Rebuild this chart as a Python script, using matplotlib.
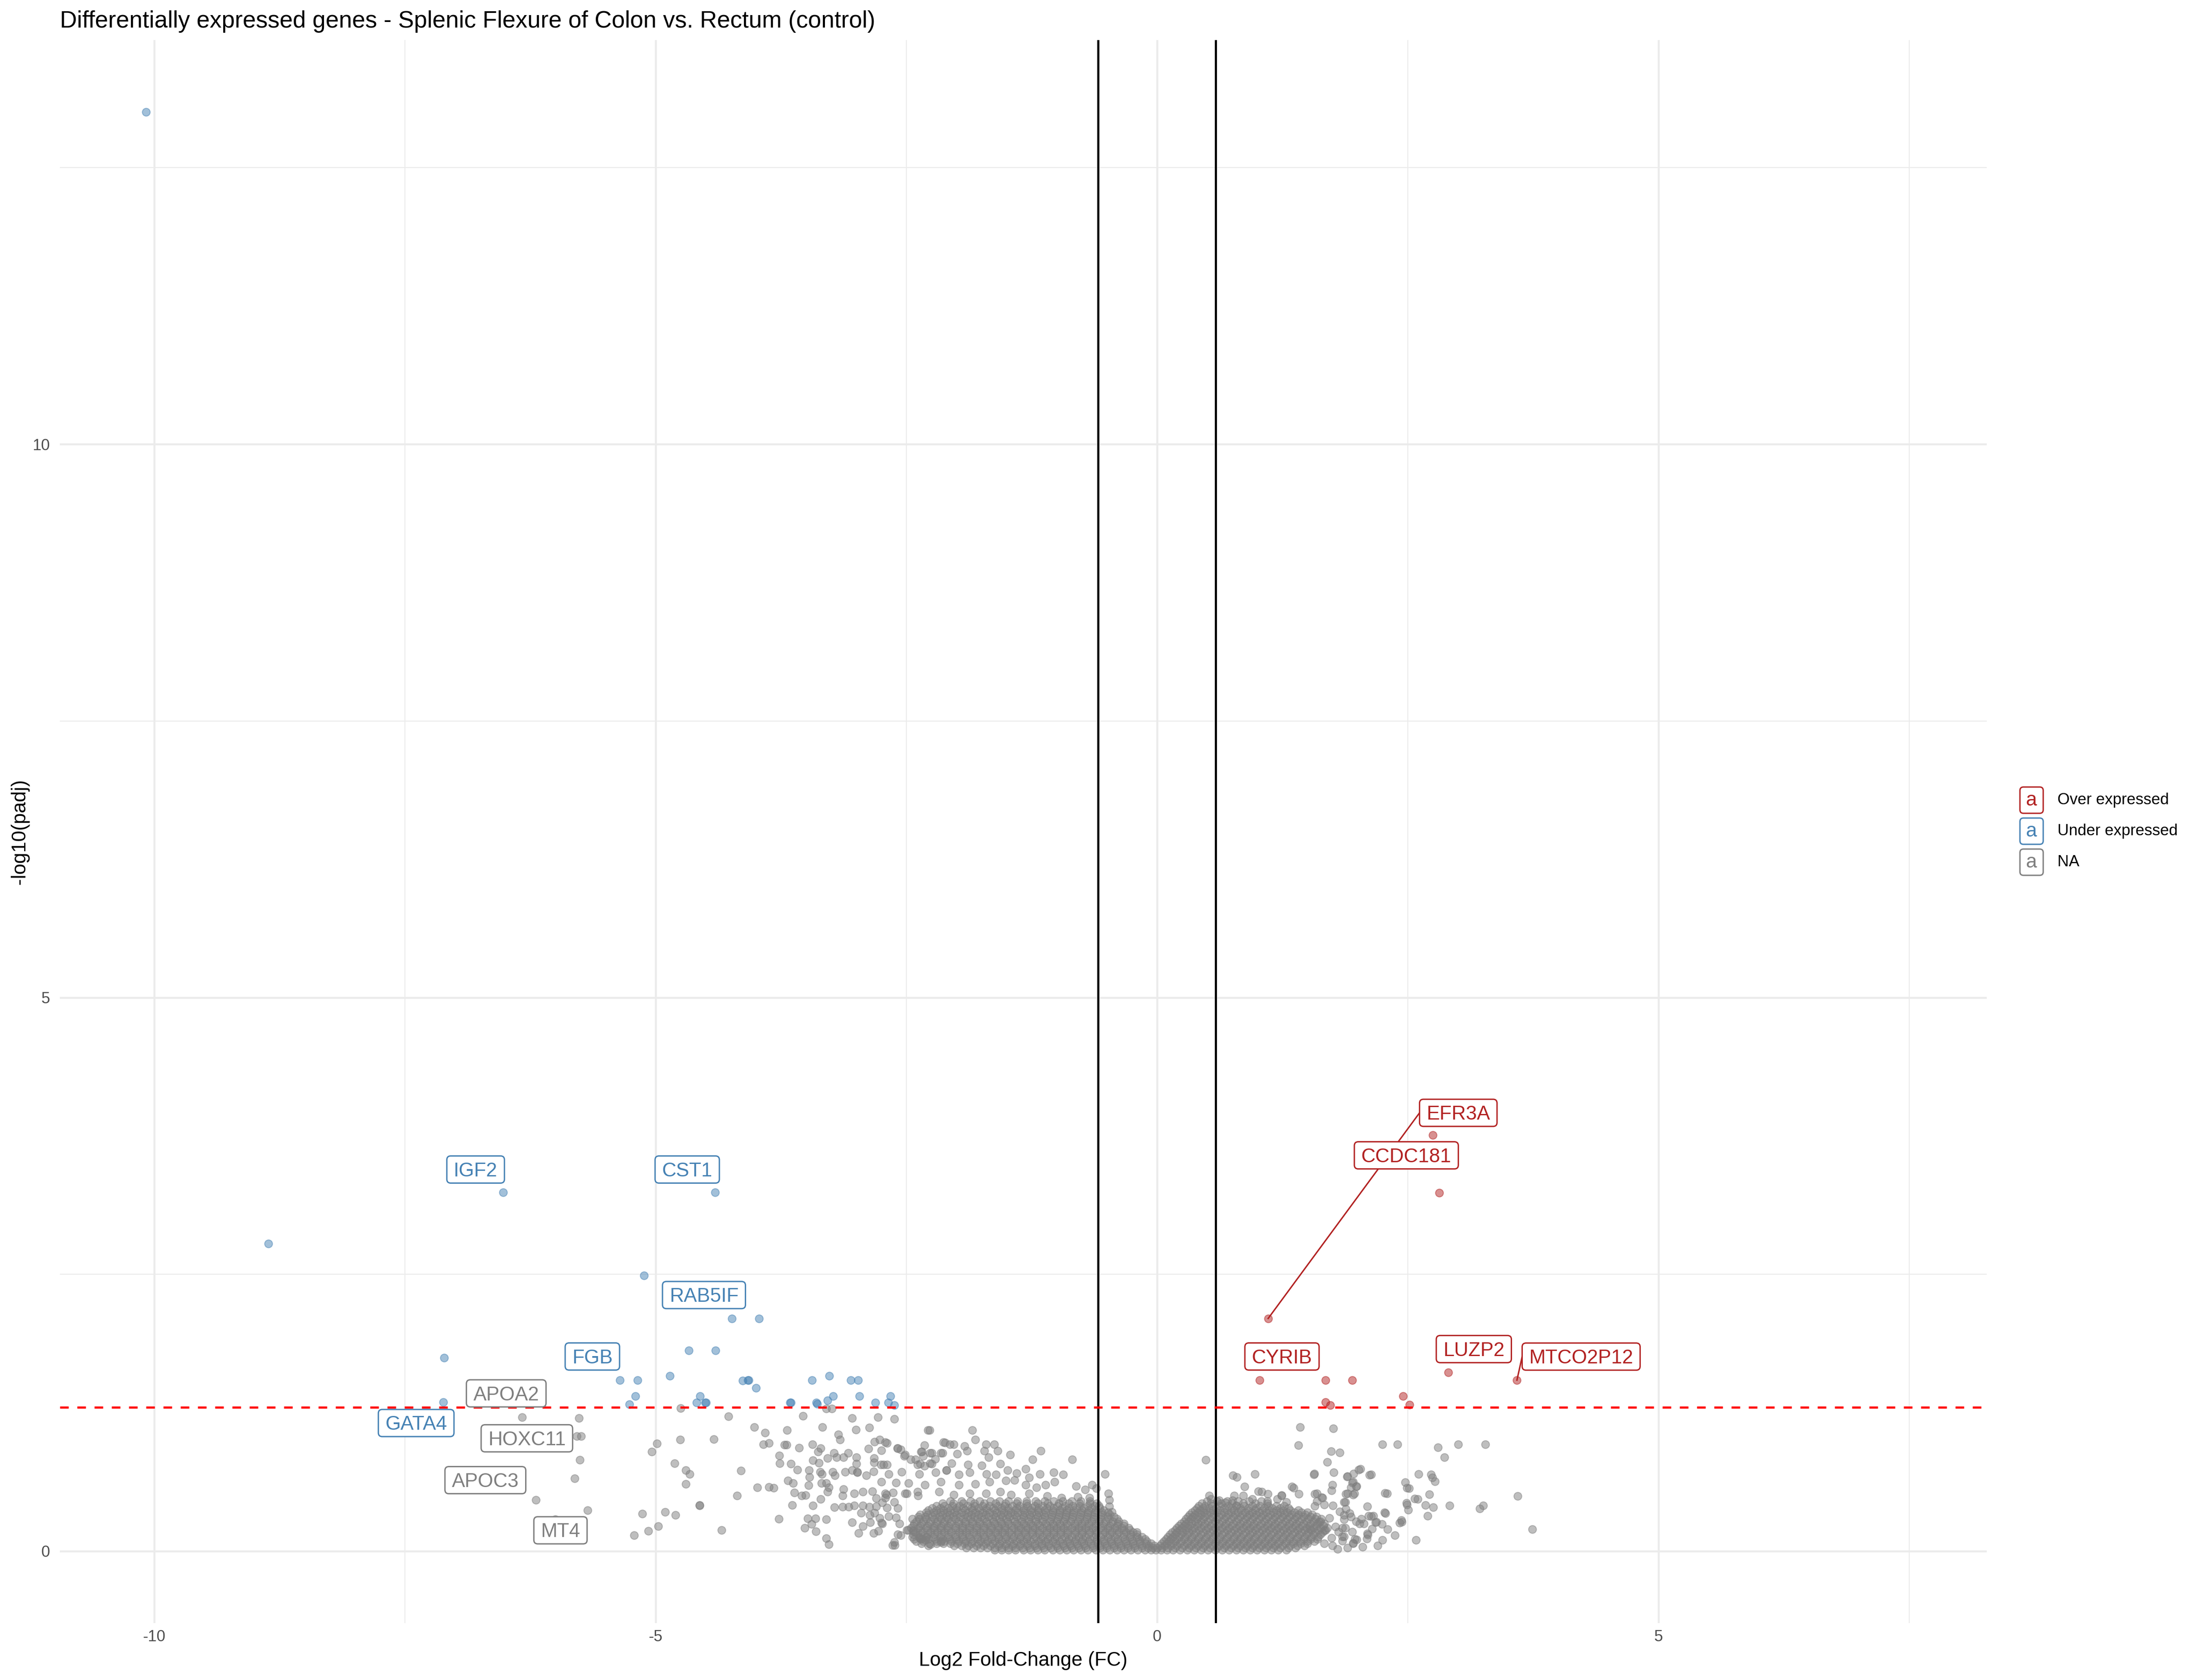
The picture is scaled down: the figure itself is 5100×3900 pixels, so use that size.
import matplotlib
matplotlib.use('Agg')
import matplotlib.pyplot as plt
from matplotlib.patches import FancyBboxPatch
from matplotlib.transforms import IdentityTransform

plt.rcParams['font.family'] = ['Liberation Sans', 'DejaVu Sans']
plt.rcParams['axes.unicode_minus'] = False

# Цвета групп
col_over = '#B22222'
col_under = '#4682B4'
col_na = '#7F7F7F'

legend_labels = ['Over expressed', 'Under expressed', 'NA']
legend_colors = [col_over, col_under, col_na]

# Значимые гены: понижены
under_pts = [(-10.08, 13.0), (-8.86, 2.78), (-6.52, 3.24), (-4.405, 3.24), (-5.115, 2.49),
             (-4.24, 2.10), (-3.97, 2.10), (-4.67, 1.815), (-4.40, 1.815), (-7.11, 1.745),
             (-5.357, 1.546), (-5.18, 1.546), (-4.855, 1.585), (-4.133, 1.54), (-4.08, 1.545),
             (-4.07, 1.545), (-4.0, 1.475), (-3.44, 1.546), (-3.266, 1.585), (-3.055, 1.546),
             (-2.98, 1.546), (-5.20, 1.40), (-4.555, 1.40), (-4.59, 1.344), (-4.505, 1.344),
             (-4.497, 1.344), (-5.26, 1.328), (-7.115, 1.345), (-3.657, 1.344), (-3.65, 1.344),
             (-3.396, 1.344), (-3.39, 1.33), (-3.285, 1.36), (-3.23, 1.40), (-2.966, 1.40),
             (-2.656, 1.40), (-2.81, 1.344), (-2.68, 1.344), (-2.617, 1.32)]

# Значимые гены: повышены
over_pts = [(1.109, 2.102), (2.751, 3.759), (2.814, 3.236), (1.025, 1.545), (1.683, 1.545),
            (1.948, 1.545), (2.904, 1.614), (3.59, 1.545), (1.683, 1.346), (1.73, 1.317),
            (2.456, 1.399), (2.519, 1.323)]

# Незначимые гены, разреженная часть слева
na_far_left = [(-6.33, 1.209), (-5.764, 1.201), (-4.75, 1.291), (-5.787, 1.037), (-5.741, 1.037),
               (-5.757, 0.823), (-5.806, 0.659), (-6.194, 0.462), (-5.676, 0.369), (-6.0, 0.287),
               (-4.988, 0.974), (-5.038, 0.90), (-4.754, 1.007), (-4.42, 1.012), (-4.808, 0.793),
               (-4.70, 0.733), (-4.658, 0.697), (-4.70, 0.607), (-5.134, 0.339), (-5.215, 0.142),
               (-5.07, 0.183), (-4.973, 0.224), (-4.904, 0.353), (-4.80, 0.328), (-4.562, 0.413),
               (-4.343, 0.189), (-4.274, 1.217), (-4.15, 0.729), (-4.185, 0.50)]

na_left = [(-3.531, 1.221), (-3.04, 1.204), (-2.783, 1.21), (-2.617, 1.195), (-3.296, 1.288),
           (-3.241, 1.288), (-4.015, 1.119), (-3.906, 1.07), (-3.689, 1.094), (-3.336, 1.119),
           (-3.0, 1.096), (-2.869, 1.118), (-2.267, 1.094), (-3.923, 0.964), (-3.869, 0.977),
           (-3.716, 0.961), (-3.691, 0.961), (-3.57, 0.935), (-3.437, 0.964), (-3.353, 0.929),
           (-3.38, 0.899), (-3.178, 1.055), (-3.16, 1.006), (-2.877, 0.925), (-2.815, 0.99),
           (-2.765, 1.009), (-2.69, 0.977), (-2.588, 0.931), (-2.556, 0.918), (-2.32, 0.957),
           (-2.11, 0.982), (-3.765, 0.862), (-3.76, 0.792), (-3.65, 0.788), (-3.585, 0.736),
           (-3.47, 0.73), (-3.465, 0.671), (-3.43, 0.821), (-3.37, 0.797), (-3.284, 0.84),
           (-3.222, 0.886), (-3.195, 0.847), (-3.128, 0.847), (-3.08, 0.886), (-2.995, 0.847),
           (-2.995, 0.788), (-2.99, 0.717), (-2.82, 0.84), (-2.82, 0.801), (-2.753, 0.782),
           (-2.69, 0.782), (-2.827, 0.721), (-2.52, 0.86), (-2.457, 0.827), (-2.41, 0.827),
           (-2.346, 0.899), (-2.33, 0.86), (-2.247, 0.886), (-2.21, 0.834), (-2.136, 0.886),
           (-2.36, 0.788), (-2.32, 0.769), (-2.247, 0.788), (-2.1, 0.73), (-3.358, 0.717),
           (-3.34, 0.697), (-3.235, 0.717), (-3.21, 0.684), (-3.11, 0.717), (-3.04, 0.73),
           (-2.99, 0.71), (-2.90, 0.684), (-3.679, 0.639), (-3.63, 0.613), (-3.474, 0.594),
           (-3.346, 0.613), (-3.296, 0.613), (-3.27, 0.574), (-3.983, 0.574), (-3.869, 0.581),
           (-3.822, 0.571), (-3.617, 0.529), (-3.543, 0.503), (-3.506, 0.506), (-3.353, 0.47),
           (-3.284, 0.538), (-3.128, 0.561), (-3.135, 0.503), (-3.017, 0.522), (-2.933, 0.535),
           (-2.84, 0.542), (-2.8, 0.477), (-2.696, 0.509), (-2.63, 0.529), (-2.494, 0.522),
           (-2.383, 0.503), (-3.637, 0.418), (-3.432, 0.412), (-3.215, 0.395), (-3.136, 0.401),
           (-3.074, 0.401), (-3.017, 0.412), (-2.933, 0.412), (-2.869, 0.399), (-2.8, 0.405),
           (-2.74, 0.438), (-4.56, 0.418), (-3.77, 0.291), (-3.481, 0.295), (-3.407, 0.295),
           (-3.296, 0.286), (-3.444, 0.243), (-3.514, 0.21), (-3.40, 0.178), (-3.296, 0.117),
           (-3.27, 0.061), (-3.04, 0.262), (-2.933, 0.226), (-2.975, 0.165), (-2.86, 0.262),
           (-2.827, 0.165), (-2.78, 0.184), (-2.74, 0.249), (-2.95, 0.347), (-2.864, 0.327),
           (-2.815, 0.347), (-2.765, 0.301), (-2.62, 0.081), (-2.615, 0.055), (-2.556, 0.145),
           (-2.48, 0.191), (-2.43, 0.178), (-2.358, 0.113), (-2.31, 0.10), (-2.26, 0.061),
           (-2.15, 0.094), (-2.638, 0.056), (-2.154, 0.082), (-2.584, 0.153), (-2.369, 0.121),
           (-2.297, 0.127), (-2.495, 0.192), (-2.566, 0.25), (-2.746, 0.257), (-2.674, 0.315),
           (-2.602, 0.302), (-2.692, 0.393), (-2.584, 0.387), (-2.62, 0.445), (-2.71, 0.484)]

na_mid_left = [(-2.286, 1.093), (-1.841, 1.093), (-2.71, 0.983), (-2.746, 0.912), (-2.728, 0.782),
               (-2.128, 0.983), (-2.064, 0.964), (-2.028, 0.964), (-1.92, 0.951), (-1.81, 1.009),
               (-1.705, 0.964), (-1.622, 0.964), (-1.586, 0.905), (-1.159, 0.905), (-1.464, 0.873),
               (-1.238, 0.827), (-0.843, 0.827), (-2.584, 0.931), (-2.513, 0.873), (-2.351, 0.899),
               (-2.261, 0.886), (-2.154, 0.886), (-1.992, 0.879), (-1.895, 0.905), (-1.723, 0.905),
               (-1.68, 0.847), (-2.387, 0.782), (-2.261, 0.795), (-2.046, 0.795), (-1.884, 0.782),
               (-1.748, 0.776), (-1.561, 0.789), (-2.674, 0.698), (-2.548, 0.717), (-2.369, 0.698),
               (-2.207, 0.711), (-2.1, 0.73), (-1.974, 0.691), (-1.866, 0.711), (-1.698, 0.698),
               (-1.604, 0.691), (-1.49, 0.73), (-1.4, 0.704), (-1.31, 0.743), (-1.167, 0.698),
               (-1.03, 0.711), (-0.933, 0.691), (-0.52, 0.698), (-0.646, 0.60), (-0.808, 0.588),
               (-0.718, 0.555), (-1.113, 0.60), (-1.023, 0.626), (-1.274, 0.665), (-0.603, 0.568),
               (-2.746, 0.626), (-2.602, 0.62), (-2.477, 0.613), (-2.315, 0.60), (-2.154, 0.626),
               (-1.974, 0.60), (-1.813, 0.607), (-1.669, 0.626), (-1.508, 0.639), (-1.42, 0.64),
               (-1.31, 0.60), (-1.202, 0.575), (-2.71, 0.523), (-2.513, 0.523), (-2.387, 0.536),
               (-2.172, 0.536), (-2.028, 0.51), (-1.866, 0.523), (-1.705, 0.523), (-1.561, 0.536),
               (-1.454, 0.51), (-1.274, 0.523), (-1.095, 0.497), (-0.951, 0.484), (-0.79, 0.49),
               (-0.675, 0.484), (-0.485, 0.523), (-0.477, 0.464), (-0.474, 0.406), (-0.449, 0.354)]

na_right = [(1.428, 1.119), (1.759, 1.107), (1.411, 0.957), (2.248, 0.964), (2.40, 0.964),
            (2.804, 0.937), (3.006, 0.964), (3.274, 0.964), (2.867, 0.849), (1.739, 0.902),
            (1.824, 0.89), (1.698, 0.805), (0.487, 0.826), (0.757, 0.683), (0.795, 0.669),
            (0.978, 0.698), (0.875, 0.583), (1.564, 0.694), (1.57, 0.70), (1.761, 0.711),
            (1.895, 0.673), (1.96, 0.70), (2.01, 0.737), (2.12, 0.689), (1.748, 0.598),
            (1.742, 0.547), (1.947, 0.618), (1.988, 0.584), (1.934, 0.577), (1.348, 0.584),
            (1.364, 0.571), (1.009, 0.541), (1.045, 0.537), (1.105, 0.516), (1.241, 0.506),
            (1.414, 0.516), (1.573, 0.516), (1.641, 0.486), (1.882, 0.519), (1.956, 0.509),
            (1.865, 0.445), (2.475, 0.621), (2.495, 0.571), (2.516, 0.567), (2.276, 0.524),
            (2.607, 0.698), (2.733, 0.691), (2.774, 0.629), (2.571, 0.475), (2.716, 0.512),
            (2.489, 0.434), (2.508, 0.373), (2.678, 0.416), (2.754, 0.396), (2.919, 0.411),
            (2.70, 0.318), (3.22, 0.386), (3.252, 0.414), (3.597, 0.496), (3.745, 0.199),
            (2.371, 0.145), (2.585, 0.10), (2.418, 0.257), (2.437, 0.281), (2.27, 0.349),
            (2.243, 0.243), (2.18, 0.259), (2.098, 0.404), (2.112, 0.318), (2.158, 0.318),
            (2.038, 0.291), (2.021, 0.25), (2.144, 0.202), (2.098, 0.161), (2.092, 0.113),
            (1.956, 0.072), (1.99, 0.106), (1.824, 0.359), (1.865, 0.325), (1.934, 0.311),
            (1.988, 0.27), (1.81, 0.175), (1.85, 0.134), (1.879, 0.209), (1.947, 0.175),
            (1.85, 0.093), (1.756, 0.414), (1.668, 0.42), (1.573, 0.407), (0.52, 0.503),
            (0.538, 0.471), (0.772, 0.503), (0.754, 0.458), (0.79, 0.412), (1.245, 0.503),
            (1.292, 0.445), (1.597, 0.523), (1.651, 0.484), (1.597, 0.451), (1.884, 0.38),
            (1.92, 0.341), (1.902, 0.678), (1.956, 0.626), (2.028, 0.743), (2.136, 0.691),
            (1.992, 0.588), (1.967, 0.523), (1.902, 0.523), (1.877, 0.445), (2.297, 0.523),
            (2.602, 0.471), (2.495, 0.419), (2.441, 0.263), (2.746, 0.665), (2.279, 0.341),
            (2.136, 0.315), (2.19, 0.263), (2.064, 0.25), (2.1, 0.147), (1.974, 0.107),
            (1.956, 0.069), (1.849, 0.211), (1.866, 0.134), (1.669, 0.185), (1.741, 0.121),
            (1.669, 0.069), (1.615, 0.263), (1.526, 0.198), (1.866, 0.289), (0.62, 0.46),
            (0.68, 0.44), (0.95, 0.47), (1.1, 0.45), (1.2, 0.47), (0.86, 0.5), (1.75, 0.05),
            (1.78, 0.22), (1.72, 0.3), (2.05, 0.04), (1.8, 0.02), (1.9, 0.03), (2.2, 0.05),
            (2.3, 0.2), (2.25, 0.1)]

# Плотное ядро около нуля: уровень y и точки x на этом уровне
core_rows = [
    (0.012, [-1.62, -1.55, -1.48, -1.41, -1.33, -1.26, -1.19, -1.12, -1.04, -0.97, -0.9, -0.83,
             -0.76, -0.69, -0.61, -0.54, -0.47, -0.4, -0.33, -0.26, -0.19, -0.12, -0.06, -0.01,
             0.04, 0.1, 0.16, 0.23, 0.3, 0.37, 0.44, 0.51, 0.58, 0.65, 0.72, 0.79, 0.86, 0.93,
             1.0, 1.07, 1.14, 1.21, 1.29]),
    (0.03, [-1.9, -1.83, -1.76, -1.69, -1.62, -1.55, -1.48, -1.41, -1.34, -1.27, -1.2, -1.13,
            -1.06, -0.99, -0.92, -0.85, -0.78, -0.71, -0.64, -0.57, -0.5, -0.43, -0.36, -0.29,
            -0.22, -0.15, -0.09, -0.04, 0.0, 0.05, 0.11, 0.18, 0.25, 0.32, 0.39, 0.46, 0.53, 0.6,
            0.67, 0.74, 0.81, 0.88, 0.95, 1.02, 1.09, 1.16, 1.23, 1.31, 1.38]),
    (0.05, [-2.28, -2.02, -1.95, -1.88, -1.8, -1.73, -1.66, -1.58, -1.51, -1.44, -1.37, -1.29,
            -1.22, -1.15, -1.08, -1.0, -0.93, -0.86, -0.79, -0.72, -0.64, -0.57, -0.5, -0.43,
            -0.36, -0.29, -0.22, -0.15, -0.08, -0.03, 0.03, 0.08, 0.14, 0.2, 0.27, 0.34, 0.41,
            0.48, 0.55, 0.62, 0.69, 0.76, 0.83, 0.9, 0.97, 1.04, 1.11, 1.18, 1.25, 1.33, 1.4, 1.47]),
    (0.07, [-2.35, -2.27, -2.2, -2.13, -2.06, -1.99, -1.92, -1.85, -1.78, -1.71, -1.64, -1.57,
            -1.5, -1.43, -1.36, -1.29, -1.22, -1.15, -1.08, -1.01, -0.94, -0.87, -0.8, -0.73,
            -0.66, -0.59, -0.52, -0.45, -0.38, -0.31, -0.24, -0.17, -0.11, -0.06, 0.05, 0.1,
            0.16, 0.23, 0.3, 0.37, 0.44, 0.51, 0.58, 0.65, 0.72, 0.79, 0.86, 0.93, 1.0, 1.07,
            1.14, 1.21, 1.28, 1.36, 1.43, 1.5]),
    (0.09, [-2.4, -2.33, -2.2, -2.12, -2.05, -1.98, -1.91, -1.84, -1.76, -1.69, -1.62, -1.55,
            -1.47, -1.4, -1.33, -1.26, -1.18, -1.11, -1.04, -0.97, -0.89, -0.82, -0.75, -0.68,
            -0.6, -0.53, -0.46, -0.39, -0.31, -0.24, -0.17, -0.1, 0.07, 0.12, 0.18, 0.24, 0.31,
            0.38, 0.45, 0.52, 0.59, 0.66, 0.73, 0.8, 0.87, 0.94, 1.01, 1.08, 1.15, 1.22, 1.29,
            1.36, 1.43, 1.5, 1.57]),
    (0.11, [-2.42, -2.35, -2.28, -2.21, -2.14, -2.07, -2.0, -1.93, -1.86, -1.79, -1.72, -1.65,
            -1.58, -1.51, -1.44, -1.37, -1.3, -1.23, -1.16, -1.09, -1.02, -0.95, -0.88, -0.81,
            -0.74, -0.67, -0.6, -0.53, -0.46, -0.39, -0.32, -0.25, -0.18, -0.12, 0.09, 0.14,
            0.2, 0.27, 0.34, 0.41, 0.48, 0.55, 0.62, 0.69, 0.76, 0.83, 0.9, 0.97, 1.04, 1.11,
            1.18, 1.25, 1.32, 1.39, 1.46, 1.53, 1.6]),
    (0.13, [-2.44, -2.37, -2.3, -2.23, -2.16, -2.08, -2.01, -1.94, -1.87, -1.79, -1.72, -1.65,
            -1.58, -1.5, -1.43, -1.36, -1.29, -1.21, -1.14, -1.07, -1.0, -0.92, -0.85, -0.78,
            -0.71, -0.63, -0.56, -0.49, -0.42, -0.34, -0.27, -0.2, -0.15, 0.11, 0.16, 0.22, 0.28,
            0.35, 0.42, 0.49, 0.56, 0.63, 0.7, 0.77, 0.84, 0.91, 0.98, 1.05, 1.12, 1.19, 1.26,
            1.33, 1.4, 1.47, 1.54, 1.61]),
    (0.15, [-2.43, -2.36, -2.29, -2.22, -2.15, -2.08, -2.01, -1.94, -1.87, -1.8, -1.73, -1.66,
            -1.59, -1.52, -1.45, -1.38, -1.31, -1.24, -1.17, -1.1, -1.03, -0.96, -0.89, -0.82,
            -0.75, -0.68, -0.61, -0.54, -0.47, -0.4, -0.33, -0.26, -0.2, 0.13, 0.18, 0.24, 0.3,
            0.37, 0.44, 0.51, 0.58, 0.65, 0.72, 0.79, 0.86, 0.93, 1.0, 1.07, 1.14, 1.21, 1.28,
            1.35, 1.42, 1.49, 1.56, 1.63]),
    (0.17, [-2.41, -2.34, -2.26, -2.19, -2.12, -2.05, -1.97, -1.9, -1.83, -1.76, -1.68, -1.61,
            -1.54, -1.47, -1.39, -1.32, -1.25, -1.18, -1.1, -1.03, -0.96, -0.89, -0.81, -0.74,
            -0.67, -0.6, -0.52, -0.45, -0.38, -0.31, -0.24, -0.2, 0.15, 0.2, 0.26, 0.32, 0.39,
            0.46, 0.53, 0.6, 0.67, 0.74, 0.81, 0.88, 0.95, 1.02, 1.09, 1.16, 1.23, 1.3, 1.37,
            1.44, 1.51, 1.58, 1.65]),
    (0.19, [-2.43, -2.36, -2.29, -2.22, -2.15, -2.08, -2.01, -1.94, -1.87, -1.8, -1.73, -1.66,
            -1.59, -1.52, -1.45, -1.38, -1.31, -1.24, -1.17, -1.1, -1.03, -0.96, -0.89, -0.82,
            -0.75, -0.68, -0.61, -0.54, -0.47, -0.4, -0.33, -0.27, 0.18, 0.23, 0.29, 0.35, 0.42,
            0.49, 0.56, 0.63, 0.7, 0.77, 0.84, 0.91, 0.98, 1.05, 1.12, 1.19, 1.26, 1.33, 1.4,
            1.47, 1.54, 1.61, 1.68]),
    (0.21, [-2.45, -2.38, -2.3, -2.23, -2.16, -2.09, -2.01, -1.94, -1.87, -1.8, -1.72, -1.65,
            -1.58, -1.51, -1.43, -1.36, -1.29, -1.22, -1.14, -1.07, -1.0, -0.93, -0.85, -0.78,
            -0.71, -0.64, -0.56, -0.49, -0.42, -0.35, -0.28, 0.2, 0.25, 0.31, 0.37, 0.44, 0.51,
            0.58, 0.65, 0.72, 0.79, 0.86, 0.93, 1.0, 1.07, 1.14, 1.21, 1.28, 1.35, 1.42, 1.49,
            1.56, 1.63, 1.7]),
    (0.23, [-2.43, -2.36, -2.29, -2.22, -2.15, -2.08, -2.01, -1.94, -1.87, -1.8, -1.73, -1.66,
            -1.59, -1.52, -1.45, -1.38, -1.31, -1.24, -1.17, -1.1, -1.03, -0.96, -0.89, -0.82,
            -0.75, -0.68, -0.61, -0.54, -0.47, -0.4, -0.33, 0.22, 0.27, 0.33, 0.4, 0.47, 0.54,
            0.61, 0.68, 0.75, 0.82, 0.89, 0.96, 1.03, 1.1, 1.17, 1.24, 1.31, 1.38, 1.45, 1.52,
            1.59, 1.66]),
    (0.25, [-2.42, -2.35, -2.27, -2.2, -2.13, -2.06, -1.98, -1.91, -1.84, -1.77, -1.69, -1.62,
            -1.55, -1.48, -1.4, -1.33, -1.26, -1.19, -1.11, -1.04, -0.97, -0.9, -0.82, -0.75,
            -0.68, -0.61, -0.53, -0.46, -0.39, -0.33, 0.24, 0.29, 0.35, 0.41, 0.48, 0.55, 0.62,
            0.69, 0.76, 0.83, 0.9, 0.97, 1.04, 1.11, 1.18, 1.25, 1.32, 1.39, 1.46, 1.53, 1.6, 1.67]),
    (0.27, [-2.4, -2.33, -2.26, -2.19, -2.12, -2.05, -1.98, -1.91, -1.84, -1.77, -1.7, -1.63,
            -1.56, -1.49, -1.42, -1.35, -1.28, -1.21, -1.14, -1.07, -1.0, -0.93, -0.86, -0.79,
            -0.72, -0.65, -0.58, -0.51, -0.44, -0.38, 0.27, 0.32, 0.38, 0.44, 0.51, 0.58, 0.65,
            0.72, 0.79, 0.86, 0.93, 1.0, 1.07, 1.14, 1.21, 1.28, 1.35, 1.42, 1.49, 1.56, 1.63]),
    (0.29, [-2.44, -2.37, -2.3, -2.22, -2.15, -2.08, -2.01, -1.93, -1.86, -1.79, -1.72, -1.64,
            -1.57, -1.5, -1.43, -1.35, -1.28, -1.21, -1.14, -1.06, -0.99, -0.92, -0.85, -0.77,
            -0.7, -0.63, -0.56, -0.48, -0.4, 0.29, 0.34, 0.4, 0.46, 0.53, 0.6, 0.67, 0.74, 0.81,
            0.88, 0.95, 1.02, 1.09, 1.16, 1.23, 1.3, 1.37, 1.44, 1.51, 1.58, 1.64]),
    (0.31, [-2.38, -2.31, -2.24, -2.17, -2.1, -2.03, -1.96, -1.89, -1.82, -1.75, -1.68, -1.61,
            -1.54, -1.47, -1.4, -1.33, -1.26, -1.19, -1.12, -1.05, -0.98, -0.91, -0.84, -0.77,
            -0.7, -0.63, -0.56, -0.49, -0.43, 0.31, 0.36, 0.42, 0.48, 0.55, 0.62, 0.69, 0.76,
            0.83, 0.9, 0.97, 1.04, 1.11, 1.18, 1.25, 1.32, 1.39, 1.46, 1.53, 1.59]),
    (0.33, [-2.36, -2.29, -2.21, -2.14, -2.07, -2.0, -1.92, -1.85, -1.78, -1.71, -1.63, -1.56,
            -1.49, -1.42, -1.34, -1.27, -1.2, -1.13, -1.05, -0.98, -0.91, -0.84, -0.76, -0.69,
            -0.62, -0.55, -0.47, 0.33, 0.38, 0.44, 0.5, 0.57, 0.64, 0.71, 0.78, 0.85, 0.92, 0.99,
            1.06, 1.13, 1.2, 1.27, 1.34, 1.41, 1.48, 1.55]),
    (0.35, [-2.3, -2.23, -2.16, -2.09, -2.02, -1.95, -1.88, -1.81, -1.74, -1.67, -1.6, -1.53,
            -1.46, -1.39, -1.32, -1.25, -1.18, -1.11, -1.04, -0.97, -0.9, -0.83, -0.76, -0.69,
            -0.62, -0.55, -0.49, 0.35, 0.41, 0.47, 0.53, 0.6, 0.67, 0.74, 0.81, 0.88, 0.95, 1.02,
            1.09, 1.16, 1.23, 1.3, 1.37, 1.44, 1.5]),
    (0.37, [-2.28, -2.2, -2.13, -2.06, -1.99, -1.91, -1.84, -1.77, -1.7, -1.62, -1.55, -1.48,
            -1.41, -1.33, -1.26, -1.19, -1.12, -1.04, -0.97, -0.9, -0.83, -0.75, -0.68, -0.61,
            -0.53, 0.38, 0.43, 0.49, 0.56, 0.63, 0.7, 0.77, 0.84, 0.91, 0.98, 1.05, 1.12, 1.19,
            1.26, 1.33, 1.41]),
    (0.39, [-2.24, -2.16, -2.08, -2.0, -1.93, -1.85, -1.78, -1.7, -1.63, -1.55, -1.48, -1.4,
            -1.33, -1.25, -1.18, -1.1, -1.03, -0.95, -0.88, -0.8, -0.73, -0.65, -0.57, 0.4, 0.46,
            0.52, 0.59, 0.67, 0.75, 0.83, 0.91, 0.99, 1.07, 1.15, 1.23, 1.31]),
    (0.41, [-2.2, -2.12, -2.04, -1.97, -1.89, -1.82, -1.74, -1.67, -1.59, -1.52, -1.44, -1.37,
            -1.29, -1.22, -1.14, -1.07, -0.99, -0.92, -0.84, -0.77, -0.69, -0.62, -0.58, 0.42,
            0.48, 0.55, 0.63, 0.71, 0.79, 0.87, 0.95, 1.03, 1.11, 1.19, 1.27]),
    (0.43, [-2.14, -2.03, -1.93, -1.82, -1.72, -1.61, -1.51, -1.4, -1.3, -1.19, -1.09, -0.98,
            -0.88, -0.77, -0.67, -0.6, 0.45, 0.54, 0.64, 0.75, 0.86, 0.98, 1.1]),
    (0.45, [-2.06, -1.95, -1.86, -1.77, -1.66, -1.57, -1.48, -1.39, -1.3, -1.21, -1.12, -1.03,
            -0.94, -0.85, -0.76, -0.67, 0.5, 0.6, 0.7, 0.81, 0.92, 1.04]),
]

# Подписи генов: текст, цвет, позиция подписи
gene_labels = [('IGF2', col_under, -6.794, 3.432), ('CST1', col_under, -4.684, 3.432),
               ('RAB5IF', col_under, -4.517, 2.298), ('FGB', col_under, -5.63, 1.743),
               ('GATA4', col_under, -7.387, 1.142), ('APOA2', col_na, -6.489, 1.41),
               ('HOXC11', col_na, -6.283, 1.004), ('APOC3', col_na, -6.697, 0.626),
               ('MT4', col_na, -5.948, 0.173), ('EFR3A', col_over, 3.005, 3.944),
               ('CCDC181', col_over, 2.487, 3.56), ('CYRIB', col_over, 1.247, 1.743),
               ('LUZP2', col_over, 3.16, 1.81), ('MTCO2P12', col_over, 4.23, 1.742)]
# Линии от точки к подписи
label_segments = {'EFR3A': (1.109, 2.102), 'MTCO2P12': (3.59, 1.545)}

fc_cut = 0.585
p_cut = 1.301

# Построение графика
fig = plt.figure(figsize=(17, 13), dpi=300)
ax = fig.add_axes([0.02725, 0.03385, 0.87706, 0.9423])
ax.set_xlim(-10.94, 8.275)
ax.set_ylim(-0.65, 13.65)

ax.set_xticks([-10, -5, 0, 5])
ax.set_xticks([-7.5, -2.5, 2.5, 7.5], minor=True)
ax.set_yticks([0, 5, 10])
ax.set_yticks([2.5, 7.5, 12.5], minor=True)
ax.grid(which='major', color='#EBEBEB', lw=1.1, zorder=0)
ax.grid(which='minor', color='#EBEBEB', lw=0.55, zorder=0)
ax.set_axisbelow(True)
for s in ax.spines.values():
    s.set_visible(False)
ax.tick_params(which='both', length=0)
ax.tick_params(axis='x', labelsize=8.8, labelcolor='#4D4D4D', pad=3.6)
ax.tick_params(axis='y', labelsize=8.8, labelcolor='#4D4D4D', pad=5.5)

gray = na_far_left + na_left + na_mid_left + na_right
for y, xs in core_rows:
    gray = gray + [(x, y) for x in xs]

for pts, c in [(gray, col_na), (under_pts, col_under), (over_pts, col_over)]:
    ax.scatter([p[0] for p in pts], [p[1] for p in pts], s=19, c=c, edgecolors=c,
               linewidths=0.5, alpha=0.5, zorder=2)

ax.axvline(-fc_cut, color='black', lw=1.2, zorder=3)
ax.axvline(fc_cut, color='black', lw=1.2, zorder=3)
ax.axhline(p_cut, color='red', lw=1.2, linestyle=(0, (4, 4)), zorder=3)

# Подписи в рамках
texts = []
for name, c, x, y in gene_labels:
    t = ax.text(x, y, name, ha='center', va='center', fontsize=11, color=c, zorder=7)
    texts.append((name, c, x, y, t))

fig.canvas.draw()
renderer = fig.canvas.get_renderer()
box_h = 63
for name, c, x, y, t in texts:
    bb = t.get_window_extent(renderer)
    cx = (bb.x0 + bb.x1) / 2
    cy = ax.transData.transform((x, y))[1] + 4
    w = bb.width + 32
    box = FancyBboxPatch((cx - w / 2, cy - box_h / 2), w, box_h,
                         boxstyle='round,pad=0,rounding_size=9', facecolor='white',
                         edgecolor=c, lw=0.75, transform=IdentityTransform(), zorder=6)
    ax.add_patch(box)
    if name in label_segments:
        px, py = label_segments[name]
        ex, ey = ax.transData.inverted().transform((cx - w / 2, cy))
        ax.plot([px, ex], [py, ey], color=c, lw=0.8, zorder=5)

# Легенда
H = 3900
for i, (lab, c) in enumerate(zip(legend_labels, legend_colors)):
    yc = H - (1857.5 + 72 * i)
    key = FancyBboxPatch((4689, yc - 30.5), 54, 61, boxstyle='round,pad=0,rounding_size=8',
                         facecolor='white', edgecolor=c, lw=0.75, transform=IdentityTransform())
    fig.add_artist(key)
    fig.text(4716 / 5100, yc / H, 'a', color=c, fontsize=11, ha='center', va='center')
    fig.text(4776 / 5100, yc / H, lab, color='black', fontsize=8.8, ha='left', va='center')

fig.text(139 / 5100, 1 - 64 / H, 'Differentially expressed genes - Splenic Flexure of Colon vs. Rectum (control)',
         fontsize=13.2, ha='left', va='baseline')
fig.text(2375.5 / 5100, 1 - 3855 / H, 'Log2 Fold-Change (FC)', fontsize=11, ha='center', va='center')
fig.text(46 / 5100, 0.505, '-log10(padj)', fontsize=11, rotation=90, ha='center', va='center')

fig.savefig('out.png', dpi=300)
